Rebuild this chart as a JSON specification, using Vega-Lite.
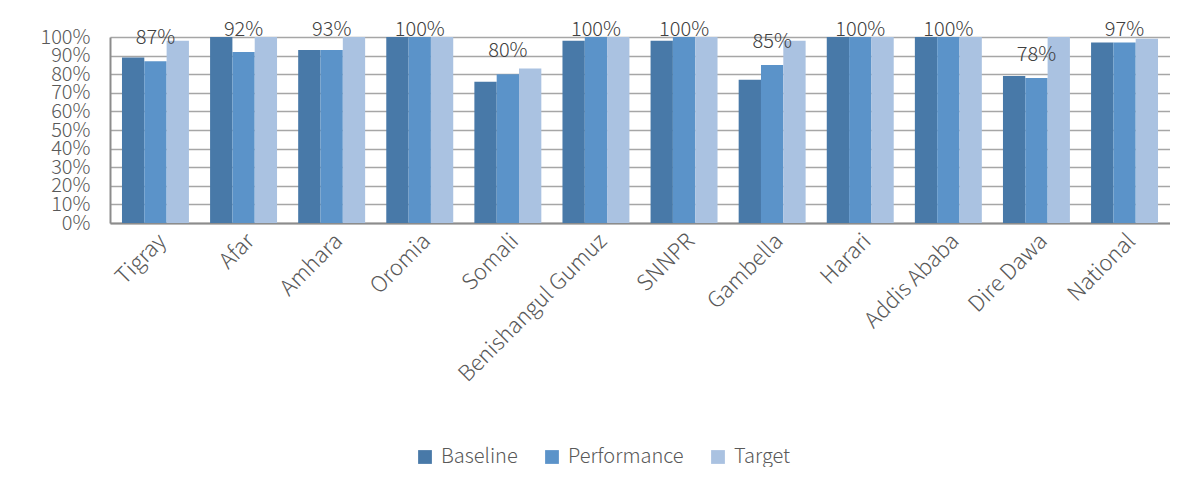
{
  "$schema": "https://vega.github.io/schema/vega-lite/v6.json",
  "width": 1060,
  "height": 186,
  "padding": {"left": 39, "top": 20, "right": 0, "bottom": 0},
  "background": "white",
  "config": {
    "font": "Noto Sans CJK JP",
    "view": {"stroke": null},
    "axis": {
      "labelFont": "Noto Sans CJK JP",
      "labelFontWeight": 300,
      "labelFontSize": 20,
      "labelColor": "#595959",
      "labelOverlap": false,
      "labelLimit": 400,
      "ticks": false,
      "domainColor": "#8c8c8c",
      "domainWidth": 2,
      "gridColor": "#a6a6a6",
      "gridWidth": 1.5
    },
    "legend": {
      "labelFont": "Noto Sans CJK JP",
      "labelFontWeight": 300,
      "labelFontSize": 20,
      "labelColor": "#595959",
      "labelLimit": 400
    }
  },
  "data": {
    "values": [
      {"region": "Tigray", "series": "Baseline", "value": 0.89},
      {"region": "Tigray", "series": "Performance", "value": 0.87},
      {"region": "Tigray", "series": "Target", "value": 0.98},
      {"region": "Afar", "series": "Baseline", "value": 1.0},
      {"region": "Afar", "series": "Performance", "value": 0.92},
      {"region": "Afar", "series": "Target", "value": 1.0},
      {"region": "Amhara", "series": "Baseline", "value": 0.93},
      {"region": "Amhara", "series": "Performance", "value": 0.93},
      {"region": "Amhara", "series": "Target", "value": 1.0},
      {"region": "Oromia", "series": "Baseline", "value": 1.0},
      {"region": "Oromia", "series": "Performance", "value": 1.0},
      {"region": "Oromia", "series": "Target", "value": 1.0},
      {"region": "Somali", "series": "Baseline", "value": 0.76},
      {"region": "Somali", "series": "Performance", "value": 0.8},
      {"region": "Somali", "series": "Target", "value": 0.83},
      {"region": "Benishangul Gumuz", "series": "Baseline", "value": 0.98},
      {"region": "Benishangul Gumuz", "series": "Performance", "value": 1.0},
      {"region": "Benishangul Gumuz", "series": "Target", "value": 1.0},
      {"region": "SNNPR", "series": "Baseline", "value": 0.98},
      {"region": "SNNPR", "series": "Performance", "value": 1.0},
      {"region": "SNNPR", "series": "Target", "value": 1.0},
      {"region": "Gambella", "series": "Baseline", "value": 0.77},
      {"region": "Gambella", "series": "Performance", "value": 0.85},
      {"region": "Gambella", "series": "Target", "value": 0.98},
      {"region": "Harari", "series": "Baseline", "value": 1.0},
      {"region": "Harari", "series": "Performance", "value": 1.0},
      {"region": "Harari", "series": "Target", "value": 1.0},
      {"region": "Addis Ababa", "series": "Baseline", "value": 1.0},
      {"region": "Addis Ababa", "series": "Performance", "value": 1.0},
      {"region": "Addis Ababa", "series": "Target", "value": 1.0},
      {"region": "Dire Dawa", "series": "Baseline", "value": 0.79},
      {"region": "Dire Dawa", "series": "Performance", "value": 0.78},
      {"region": "Dire Dawa", "series": "Target", "value": 1.0},
      {"region": "National", "series": "Baseline", "value": 0.97},
      {"region": "National", "series": "Performance", "value": 0.97},
      {"region": "National", "series": "Target", "value": 0.99}
    ]
  },
  "encoding": {
    "x": {
      "field": "region",
      "type": "nominal",
      "sort": null,
      "title": null,
      "scale": {"paddingInner": 0.24, "paddingOuter": 0.136},
      "axis": {"labelAngle": -45, "labelPadding": 7, "labelFontSize": 22, "grid": false}
    }
  },
  "layer": [
    {
      "mark": {"type": "bar"},
      "encoding": {
        "xOffset": {
          "field": "series",
          "type": "nominal",
          "sort": ["Baseline", "Performance", "Target"],
          "scale": {"paddingInner": 0, "paddingOuter": 0}
        },
        "y": {
          "field": "value",
          "type": "quantitative",
          "title": null,
          "scale": {"domain": [0, 1], "nice": false},
          "axis": {
            "format": ".0%",
            "values": [0, 0.1, 0.2, 0.3, 0.4, 0.5, 0.6, 0.7, 0.8, 0.9, 1.0],
            "labelPadding": 20,
            "labelBaseline": "middle"
          }
        },
        "color": {
          "field": "series",
          "type": "nominal",
          "title": null,
          "sort": ["Baseline", "Performance", "Target"],
          "scale": {"range": ["#4879a8", "#5b93c9", "#aac2e1"]},
          "legend": {
            "orient": "none",
            "direction": "horizontal",
            "legendX": 305,
            "legendY": 410,
            "symbolType": "square",
            "symbolSize": 190,
            "symbolStrokeWidth": 0,
            "columnPadding": 24,
            "labelOffset": 6
          }
        }
      }
    },
    {
      "transform": [{"filter": "datum.series === 'Performance'"}],
      "mark": {
        "type": "text",
        "baseline": "middle",
        "dy": -7,
        "fontSize": 20,
        "fontWeight": 300,
        "color": "#404040"
      },
      "encoding": {
        "y": {
          "field": "value",
          "type": "quantitative",
          "scale": {"domain": [-0.086, 0.914], "clamp": true, "nice": false, "zero": false},
          "axis": null
        },
        "text": {"field": "value", "type": "quantitative", "format": ".0%"}
      }
    }
  ],
  "resolve": {"scale": {"y": "independent"}}
}
